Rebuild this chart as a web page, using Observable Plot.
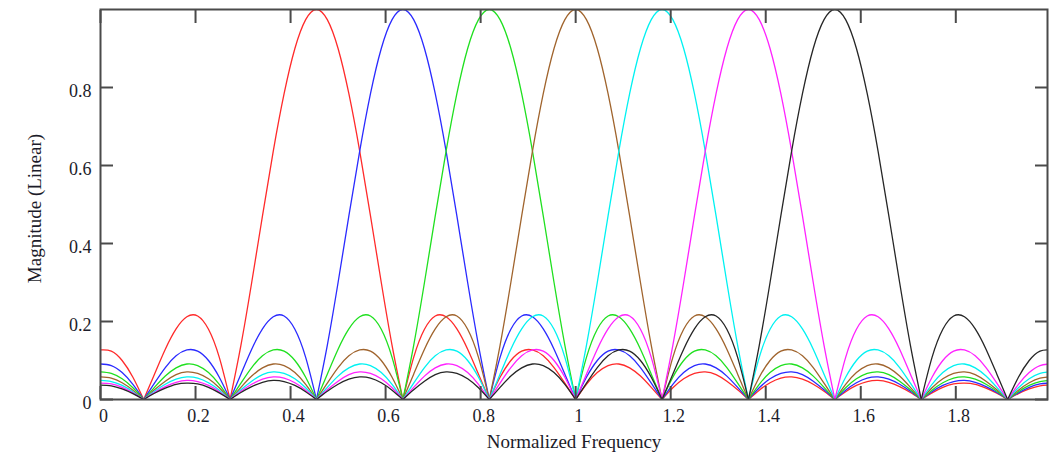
<!DOCTYPE html>
<html><head><meta charset="utf-8">
<script src="https://cdn.jsdelivr.net/npm/d3@7"></script>
<script src="https://cdn.jsdelivr.net/npm/@observablehq/plot@0.6"></script>
<style>body{margin:0;background:#fff;}</style>
</head><body><div id="chart"></div>
<script>
const freq = [0,0.0227,0.0455,0.0682,0.0909,0.1136,0.1364,0.1591,0.1818,0.2045,0.2273,0.25,0.2727,0.2955,0.3182,0.3409,0.3636,0.3864,0.4091,0.4318,0.4545,0.4773,0.5,0.5227,0.5455,0.5682,0.5909,0.6136,0.6364,0.6591,0.6818,0.7045,0.7273,0.75,0.7727,0.7955,0.8182,0.8409,0.8636,0.8864,0.9091,0.9318,0.9545,0.9773,1,1.0227,1.0455,1.0682,1.0909,1.1136,1.1364,1.1591,1.1818,1.2045,1.2273,1.25,1.2727,1.2955,1.3182,1.3409,1.3636,1.3864,1.4091,1.4318,1.4545,1.4773,1.5,1.5227,1.5455,1.5682,1.5909,1.6136,1.6364,1.6591,1.6818,1.7045,1.7273,1.75,1.7727,1.7955,1.8182,1.8409,1.8636,1.8864,1.9091,1.9318,1.9545,1.9773,2];

const mag1 = [0.127,0.124,0.100,0.057,0,0.065,0.129,0.181,
  0.212,0.214,0.180,0.108,0,0.139,0.300,0.471,
  0.637,0.784,0.900,0.974,1,0.974,0.900,0.784,0.637,
  0.471,0.300,0.139,0,0.108,0.180,0.214,0.212,
  0.181,0.129,0.065,0,0.057,0.100,0.124,0.127,
  0.112,0.082,0.042,0,0.039,0.069,0.087,0.091,
  0.081,0.060,0.031,0,0.030,0.053,0.067,0.071,
  0.064,0.047,0.025,0,0.024,0.043,0.055,0.058,
  0.052,0.039,0.021,0,0.020,0.036,0.046,0.049,
  0.044,0.033,0.018,0,0.017,0.031,0.040,0.042,
  0.039,0.029,0.016,0,0.015,0.027,0.035,0.037];

const mag2 = [0.091,0.087,0.069,0.039,0,0.042,0.082,0.112,
  0.127,0.124,0.100,0.057,0,0.065,0.129,0.181,
  0.212,0.214,0.180,0.108,0,0.139,0.300,0.471,
  0.637,0.784,0.900,0.974,1,0.974,0.900,0.784,0.637,
  0.471,0.300,0.139,0,0.108,0.180,0.214,0.212,
  0.181,0.129,0.065,0,0.057,0.100,0.124,0.127,
  0.112,0.082,0.042,0,0.039,0.069,0.087,0.091,
  0.081,0.060,0.031,0,0.030,0.053,0.067,0.071,
  0.064,0.047,0.025,0,0.024,0.043,0.055,0.058,
  0.052,0.039,0.021,0,0.020,0.036,0.046,0.049,
  0.044,0.033,0.018,0,0.017,0.031,0.040,0.042];

const mag3 = [0.071,0.067,0.053,0.030,0,0.031,0.060,0.081,
  0.091,0.087,0.069,0.039,0,0.042,0.082,0.112,
  0.127,0.124,0.100,0.057,0,0.065,0.129,0.181,
  0.212,0.214,0.180,0.108,0,0.139,0.300,0.471,
  0.637,0.784,0.900,0.974,1,0.974,0.900,0.784,0.637,
  0.471,0.300,0.139,0,0.108,0.180,0.214,0.212,
  0.181,0.129,0.065,0,0.057,0.100,0.124,0.127,
  0.112,0.082,0.042,0,0.039,0.069,0.087,0.091,
  0.081,0.060,0.031,0,0.030,0.053,0.067,0.071,
  0.064,0.047,0.025,0,0.024,0.043,0.055,0.058,
  0.052,0.039,0.021,0,0.020,0.036,0.046,0.049];

const mag4 = [0.058,0.055,0.043,0.024,0,0.025,0.047,0.064,
  0.071,0.067,0.053,0.030,0,0.031,0.060,0.081,
  0.091,0.087,0.069,0.039,0,0.042,0.082,0.112,
  0.127,0.124,0.100,0.057,0,0.065,0.129,0.181,
  0.212,0.214,0.180,0.108,0,0.139,0.300,0.471,
  0.637,0.784,0.900,0.974,1,0.974,0.900,0.784,0.637,
  0.471,0.300,0.139,0,0.108,0.180,0.214,0.212,
  0.181,0.129,0.065,0,0.057,0.100,0.124,0.127,
  0.112,0.082,0.042,0,0.039,0.069,0.087,0.091,
  0.081,0.060,0.031,0,0.030,0.053,0.067,0.071,
  0.064,0.047,0.025,0,0.024,0.043,0.055,0.058];

const mag5 = [0.049,0.046,0.036,0.020,0,0.021,0.039,0.052,
  0.058,0.055,0.043,0.024,0,0.025,0.047,0.064,
  0.071,0.067,0.053,0.030,0,0.031,0.060,0.081,
  0.091,0.087,0.069,0.039,0,0.042,0.082,0.112,
  0.127,0.124,0.100,0.057,0,0.065,0.129,0.181,
  0.212,0.214,0.180,0.108,0,0.139,0.300,0.471,
  0.637,0.784,0.900,0.974,1,0.974,0.900,0.784,0.637,
  0.471,0.300,0.139,0,0.108,0.180,0.214,0.212,
  0.181,0.129,0.065,0,0.057,0.100,0.124,0.127,
  0.112,0.082,0.042,0,0.039,0.069,0.087,0.091,
  0.081,0.060,0.031,0,0.030,0.053,0.067,0.071];

const mag6 = [0.042,0.040,0.031,0.017,0,0.018,0.033,0.044,
  0.049,0.046,0.036,0.020,0,0.021,0.039,0.052,
  0.058,0.055,0.043,0.024,0,0.025,0.047,0.064,
  0.071,0.067,0.053,0.030,0,0.031,0.060,0.081,
  0.091,0.087,0.069,0.039,0,0.042,0.082,0.112,
  0.127,0.124,0.100,0.057,0,0.065,0.129,0.181,
  0.212,0.214,0.180,0.108,0,0.139,0.300,0.471,
  0.637,0.784,0.900,0.974,1,0.974,0.900,0.784,0.637,
  0.471,0.300,0.139,0,0.108,0.180,0.214,0.212,
  0.181,0.129,0.065,0,0.057,0.100,0.124,0.127,
  0.112,0.082,0.042,0,0.039,0.069,0.087,0.091];

const mag7 = [0.037,0.035,0.027,0.015,0,0.016,0.029,0.039,
  0.042,0.040,0.031,0.017,0,0.018,0.033,0.044,
  0.049,0.046,0.036,0.020,0,0.021,0.039,0.052,
  0.058,0.055,0.043,0.024,0,0.025,0.047,0.064,
  0.071,0.067,0.053,0.030,0,0.031,0.060,0.081,
  0.091,0.087,0.069,0.039,0,0.042,0.082,0.112,
  0.127,0.124,0.100,0.057,0,0.065,0.129,0.181,
  0.212,0.214,0.180,0.108,0,0.139,0.300,0.471,
  0.637,0.784,0.900,0.974,1,0.974,0.900,0.784,0.637,
  0.471,0.300,0.139,0,0.108,0.180,0.214,0.212,
  0.181,0.129,0.065,0,0.057,0.100,0.124,0.127];

const seriesNames = ["S1", "S2", "S3", "S4", "S5", "S6", "S7"];
const seriesColors = ["#ff2a2a", "#2a2aff", "#1fe01f", "#a0642d", "#00f2f2", "#ff22ff", "#262626"];
const xTicks = [0, 0.2, 0.4, 0.6, 0.8, 1, 1.2, 1.4, 1.6, 1.8];
const yTicks = [0, 0.2, 0.4, 0.6, 0.8];
const xTitle = "Normalized Frequency";
const yTitle = "Magnitude (Linear)";

// Build rows; split each series into lobes at its nulls so each lobe is a smooth arch
const allSeries = [mag1, mag2, mag3, mag4, mag5, mag6, mag7];
const rows = [];
allSeries.forEach((vals, s) => {
  let lobe = 0;
  vals.forEach((v, i) => {
    rows.push({f: freq[i], m: v, s: seriesNames[s], z: seriesNames[s] + "-" + lobe});
    if (v === 0 && i > 0 && i < vals.length - 1) {
      lobe++;
      rows.push({f: freq[i], m: v, s: seriesNames[s], z: seriesNames[s] + "-" + lobe});
    }
  });
});

const font = "'Liberation Serif', 'Times New Roman', serif";
const fmt = d => String(d);
const axisStroke = "#4a4a4a";

const chart = Plot.plot({
  width: 1059, height: 456,
  marginLeft: 100, marginRight: 12, marginTop: 9, marginBottom: 57,
  style: {fontFamily: font, fontSize: "18px", color: "#1c1c2a", background: "#fff"},
  x: {domain: [0, 1.993], label: null},
  y: {domain: [0, 1], label: null},
  color: {domain: seriesNames, range: seriesColors},
  marks: [
    Plot.line(rows, {x: "f", y: "m", z: "z", stroke: "s", strokeWidth: 1.3, curve: "natural", clip: true}),
    Plot.frame({stroke: axisStroke, strokeWidth: 2}),
    Plot.axisX(xTicks, {anchor: "bottom", tickSize: -13, tickFormat: () => "", stroke: axisStroke, strokeWidth: 2, label: null}),
    Plot.axisX(xTicks, {anchor: "top", tickSize: -13, tickFormat: () => "", stroke: axisStroke, strokeWidth: 2, label: null}),
    Plot.axisY(yTicks, {anchor: "left", tickSize: -13, tickFormat: () => "", stroke: axisStroke, strokeWidth: 2, label: null}),
    Plot.axisY(yTicks, {anchor: "right", tickSize: -13, tickFormat: () => "", stroke: axisStroke, strokeWidth: 2, label: null}),
    Plot.axisX(xTicks, {anchor: "bottom", tickSize: 0, tickPadding: 10, tickFormat: fmt, dx: 3, label: null}),
    Plot.axisY(yTicks, {anchor: "left", tickSize: 0, tickPadding: 9, tickFormat: fmt, dy: 4, label: null}),
    Plot.text([xTitle], {frameAnchor: "bottom", textAnchor: "middle", dy: 48, fontSize: 19}),
    Plot.text([yTitle], {frameAnchor: "left", textAnchor: "middle", dx: -66, dy: 4, rotate: -90, fontSize: 19})
  ]
});
document.getElementById("chart").appendChild(chart);
</script>
</body></html>
